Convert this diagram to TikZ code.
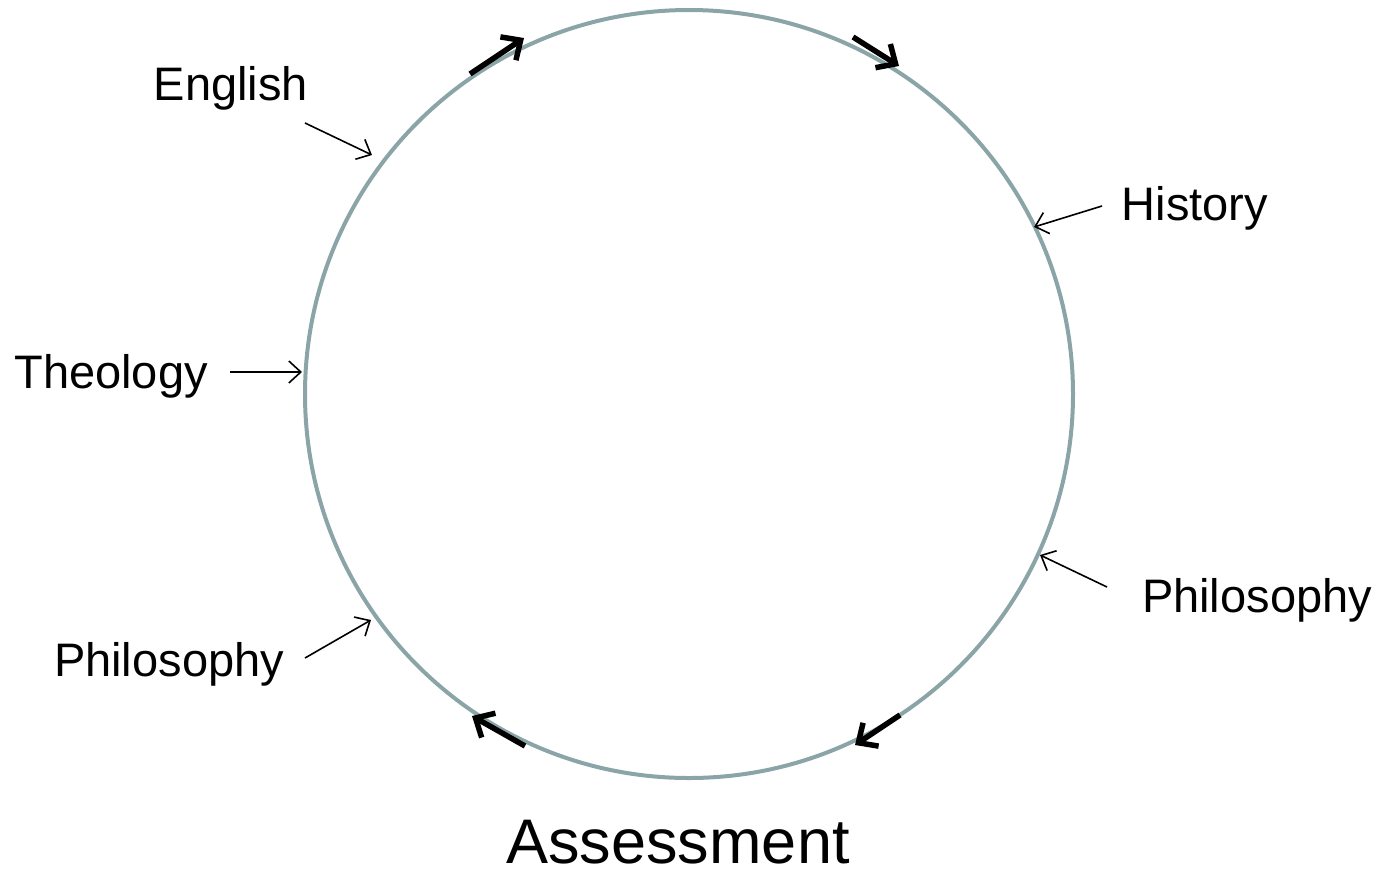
\documentclass[tikz,border=0pt]{standalone}
\usepackage{fontspec}
\setmainfont{Liberation Sans}
\usetikzlibrary{arrows.meta}
\definecolor{ringcol}{RGB}{138,164,168}
\begin{document}
\begin{tikzpicture}[x=1pt,y=-1pt,
  lbl/.style={font=\fontsize{47}{50}\selectfont, inner sep=0pt},
  big/.style={font=\fontsize{63}{66}\selectfont, inner sep=0pt},
  thin/.style={line width=1.6pt, -{Straight Barb[length=12pt,width=22pt,line width=1.6pt]}},
  thick/.style={line width=5.5pt, -{Straight Barb[length=15pt,width=28pt,line width=5.5pt]}},
  ring/.style={draw=ringcol, line width=4pt}]
\useasboundingbox (0,0) rectangle (1383,871);
\node[ring, circle, minimum size=768pt, inner sep=0pt] (c) at (689,394) {};
% labels
\node[lbl] (eng) at (231,88) {English};
\node[lbl] (his) at (1195,208) {History};
\node[lbl] (the) at (111,376) {Theology};
\node[lbl] (phr) at (1257,600) {Philosophy};
\node[lbl] (phl) at (169,664) {Philosophy};
\node[big] (ass) at (678,842) {Assessment};
% thin arrow coordinates
\coordinate (e1) at (305,123); \coordinate (e2) at (372,155);
\coordinate (h1) at (1102,206); \coordinate (h2) at (1034,227);
\coordinate (t1) at (230,372); \coordinate (t2) at (302,372);
\coordinate (r1) at (1107,587); \coordinate (r2) at (1040,555);
\coordinate (l1) at (305,658); \coordinate (l2) at (371,620);
\draw[thin] (e1) -- (e2);
\draw[thin] (h1) -- (h2);
\draw[thin] (t1) -- (t2);
\draw[thin] (r1) -- (r2);
\draw[thin] (l1) -- (l2);
% thick arrow coordinates
\coordinate (a1) at (470,74); \coordinate (a2) at (524,38);
\coordinate (b1) at (853,37); \coordinate (b2) at (899,66);
\coordinate (c1) at (900,715); \coordinate (c2) at (855,745);
\coordinate (d1) at (525,746); \coordinate (d2) at (472,716);
\draw[thick] (a1) -- (a2);
\draw[thick] (b1) -- (b2);
\draw[thick] (c1) -- (c2);
\draw[thick] (d1) -- (d2);
\end{tikzpicture}
\end{document}
